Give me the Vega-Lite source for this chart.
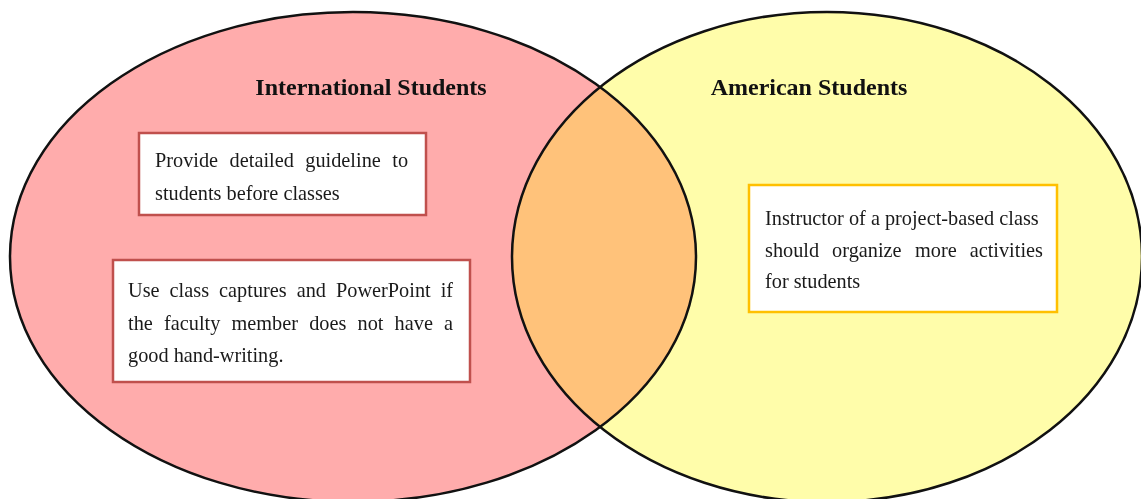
{
  "$schema": "https://vega.github.io/schema/vega-lite/v6.json",
  "width": 1141,
  "height": 499,
  "autosize": {"type": "none"},
  "padding": 0,
  "background": "white",
  "config": {"view": {"stroke": null}},
  "datasets": {
    "sets": [
      {"name": "International Students", "x": 353, "y": 257},
      {"name": "American Students", "x": 827, "y": 257}
    ],
    "titles": [
      {"name": "International Students", "x": 371, "y": 95},
      {"name": "American Students", "x": 809, "y": 95}
    ],
    "boxes": [
      {"set": "International Students", "x": 139, "x2": 426, "y": 133, "y2": 215},
      {"set": "International Students", "x": 113, "x2": 470, "y": 260, "y2": 382},
      {"set": "American Students", "x": 749, "x2": 1057, "y": 185, "y2": 312}
    ],
    "words": [
      {"text": "Provide", "x": 155, "y": 167},
      {"text": "detailed", "x": 229.6, "y": 167},
      {"text": "guideline", "x": 305.3, "y": 167},
      {"text": "to", "x": 392.3, "y": 167},
      {"text": "students before classes", "x": 155, "y": 200},
      {"text": "Use", "x": 128, "y": 297},
      {"text": "class", "x": 169.6, "y": 297},
      {"text": "captures", "x": 219.1, "y": 297},
      {"text": "and", "x": 296.7, "y": 297},
      {"text": "PowerPoint", "x": 336, "y": 297},
      {"text": "if", "x": 440.7, "y": 297},
      {"text": "the", "x": 128, "y": 330},
      {"text": "faculty", "x": 164, "y": 330},
      {"text": "member", "x": 231.5, "y": 330},
      {"text": "does", "x": 309.2, "y": 330},
      {"text": "not", "x": 357.5, "y": 330},
      {"text": "have", "x": 394.6, "y": 330},
      {"text": "a", "x": 444, "y": 330},
      {"text": "good hand-writing.", "x": 128, "y": 362},
      {"text": "Instructor of a project-based class", "x": 765, "y": 225},
      {"text": "should", "x": 765, "y": 257},
      {"text": "organize", "x": 832.1, "y": 257},
      {"text": "more", "x": 915, "y": 257},
      {"text": "activities", "x": 969.7, "y": 257},
      {"text": "for students", "x": 765, "y": 288}
    ]
  },
  "encoding": {
    "x": {"field": "x", "type": "quantitative", "scale": {"domain": [0, 1141], "nice": false, "zero": false}, "axis": null},
    "y": {"field": "y", "type": "quantitative", "scale": {"domain": [499, 0], "nice": false, "zero": false}, "axis": null}
  },
  "layer": [
    {
      "data": {"name": "sets"},
      "transform": [{"filter": "datum.name == 'International Students'"}],
      "mark": {"type": "point", "shape": "M1,0C1,0.3944,0.5523,0.714,0,0.714C-0.5523,0.714,-1,0.3944,-1,0C-1,-0.3944,-0.5523,-0.714,0,-0.714C0.5523,-0.714,1,-0.3944,1,0Z", "size": 470596, "filled": true, "fill": "#ffacac", "opacity": 1, "strokeWidth": 0}
    },
    {
      "data": {"name": "sets"},
      "transform": [{"filter": "datum.name == 'American Students'"}],
      "mark": {"type": "point", "shape": "M1,0C1,0.4297,0.5523,0.778,0,0.778C-0.5523,0.778,-1,0.4297,-1,0C-1,-0.4297,-0.5523,-0.778,0,-0.778C0.5523,-0.778,1,-0.4297,1,0Z", "size": 396900, "filled": true, "fill": "#fffdaa", "opacity": 1, "strokeWidth": 0, "blend": "multiply"}
    },
    {
      "data": {"name": "sets"},
      "transform": [{"filter": "datum.name == 'American Students'"}],
      "mark": {"type": "point", "shape": "M1,0C1,0.4297,0.5523,0.778,0,0.778C-0.5523,0.778,-1,0.4297,-1,0C-1,-0.4297,-0.5523,-0.778,0,-0.778C0.5523,-0.778,1,-0.4297,1,0Z", "size": 396900, "filled": true, "fill": "#00c27a", "opacity": 1, "strokeWidth": 0, "blend": "lighten"}
    },
    {
      "data": {"name": "sets"},
      "transform": [{"filter": "datum.name == 'International Students'"}],
      "mark": {"type": "point", "shape": "M1,0C1,0.3944,0.5523,0.714,0,0.714C-0.5523,0.714,-1,0.3944,-1,0C-1,-0.3944,-0.5523,-0.714,0,-0.714C0.5523,-0.714,1,-0.3944,1,0Z", "size": 470596, "filled": false, "stroke": "#111111", "strokeWidth": 2.5, "opacity": 1}
    },
    {
      "data": {"name": "sets"},
      "transform": [{"filter": "datum.name == 'American Students'"}],
      "mark": {"type": "point", "shape": "M1,0C1,0.4297,0.5523,0.778,0,0.778C-0.5523,0.778,-1,0.4297,-1,0C-1,-0.4297,-0.5523,-0.778,0,-0.778C0.5523,-0.778,1,-0.4297,1,0Z", "size": 396900, "filled": false, "stroke": "#111111", "strokeWidth": 2.5, "opacity": 1}
    },
    {
      "data": {"name": "boxes"},
      "transform": [{"filter": "datum.set == 'International Students'"}],
      "mark": {"type": "rect", "fill": "white", "stroke": "#c0504d", "strokeWidth": 2.5},
      "encoding": {
        "x2": {"field": "x2"},
        "y2": {"field": "y2"}
      }
    },
    {
      "data": {"name": "boxes"},
      "transform": [{"filter": "datum.set == 'American Students'"}],
      "mark": {"type": "rect", "fill": "white", "stroke": "#ffc000", "strokeWidth": 2.5},
      "encoding": {
        "x2": {"field": "x2"},
        "y2": {"field": "y2"}
      }
    },
    {
      "data": {"name": "titles"},
      "mark": {"type": "text", "font": "Liberation Serif", "fontWeight": "bold", "fontSize": 24, "color": "#111111", "align": "center", "baseline": "alphabetic"},
      "encoding": {"text": {"field": "name"}}
    },
    {
      "data": {"name": "words"},
      "mark": {"type": "text", "font": "Liberation Serif", "fontSize": 20.3, "color": "#1a1a1a", "align": "left", "baseline": "alphabetic"},
      "encoding": {"text": {"field": "text"}}
    }
  ]
}
